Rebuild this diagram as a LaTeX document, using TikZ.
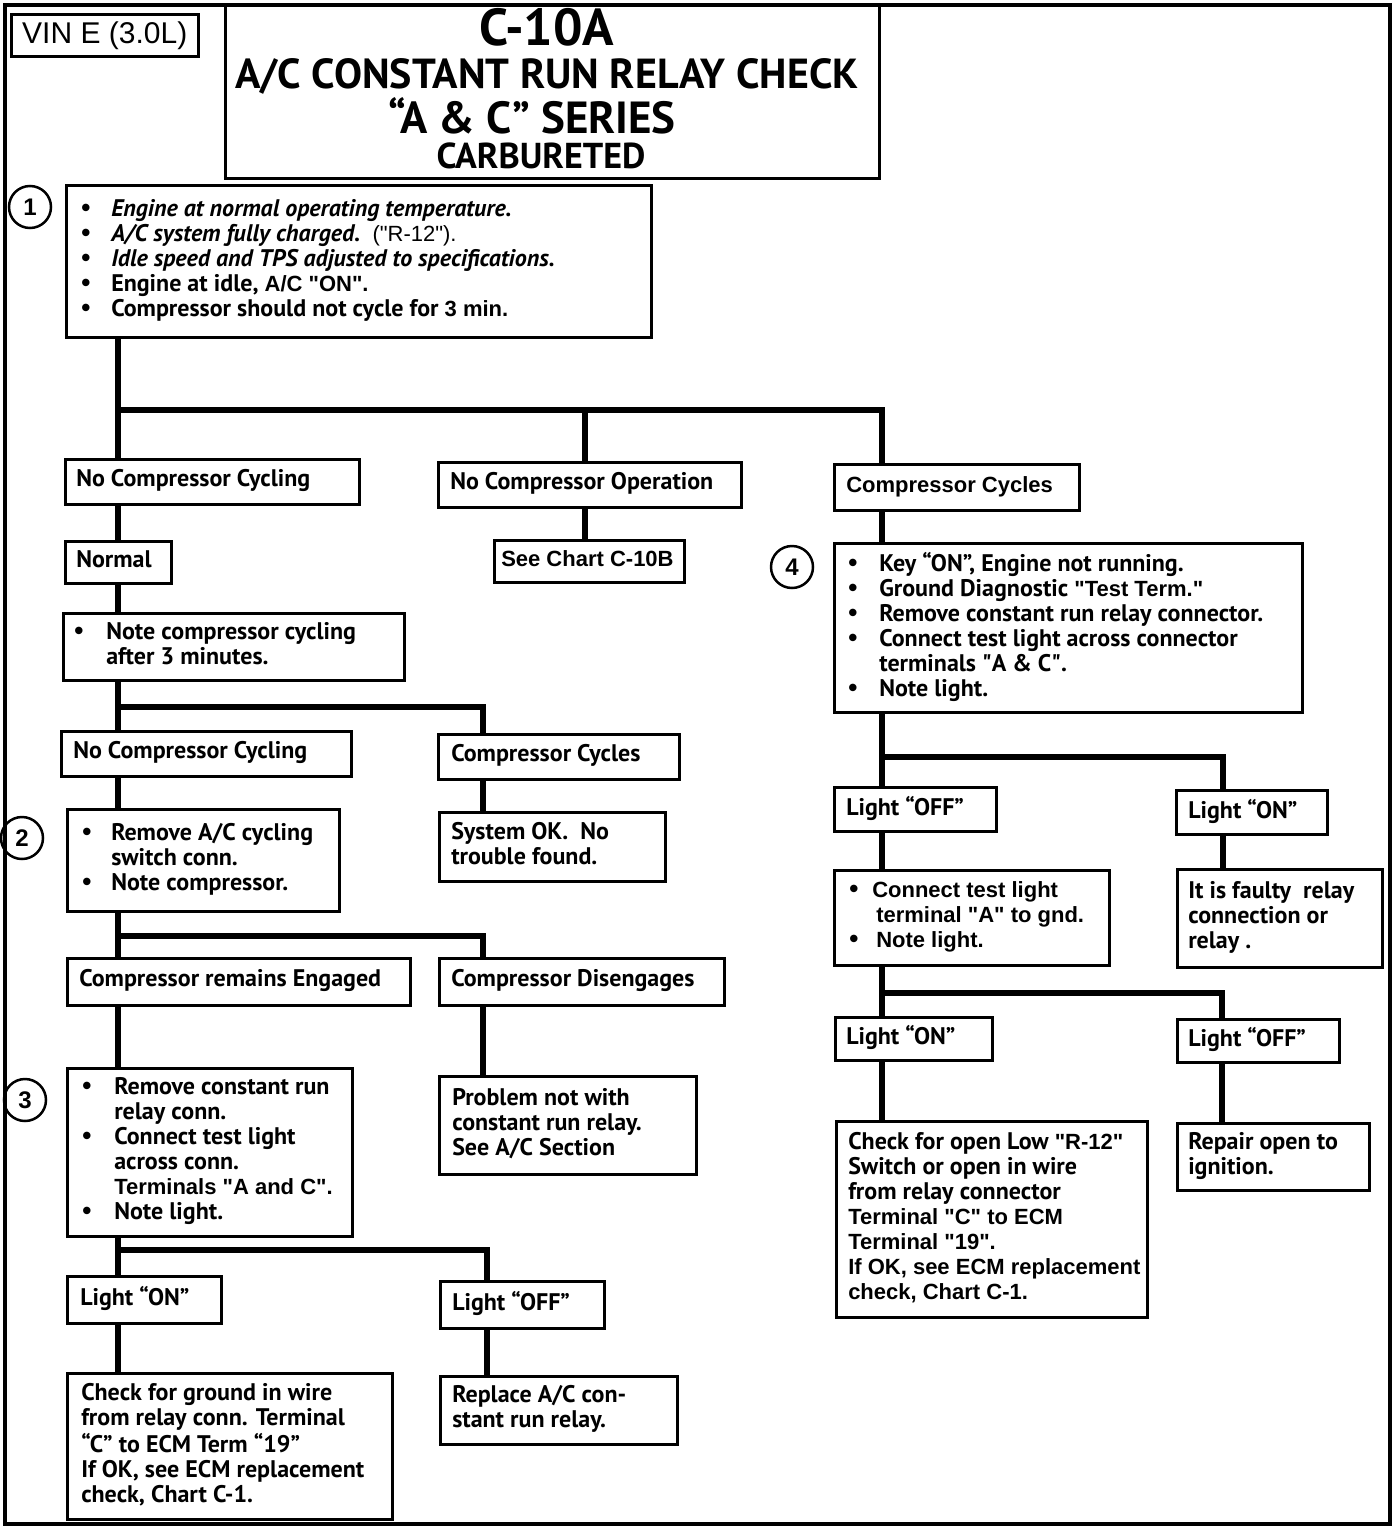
\documentclass[tikz,border=0pt]{standalone}
\usepackage{fontspec}
\usepackage{graphicx}
\setmainfont{PT Sans}
\newfontfamily\arial{Liberation Sans}
\newfontfamily\ptq{PT Sans}
\usetikzlibrary{calc}
\newcommand\bodyfont{\fontsize{24}{25}\selectfont\bfseries}
\newcommand\ar{\arial\fontsize{22}{25}\selectfont}
\newcommand\sq{{\ptq"}}
\newcommand\bl[1]{\makebox[#1][l]{\smash{\arial\fontsize{26}{25}\selectfont\textbullet}}}
\newcommand\ind[1]{\hspace*{#1}}
\newcommand\fb[8][]{\node[box, #1, inner xsep=#7pt, minimum width=#5pt, minimum height=#6pt]
  (#2) at (#3,#4) {\makebox[\dimexpr #5pt-#7pt*2\relax][l]{\begin{tabular}{@{}l@{}}#8\end{tabular}}};}
\tikzset{
  box/.style={draw, line width=2.5pt, fill=white, anchor=north west, inner ysep=0pt,
    font=\bodyfont},
  conn/.style={line width=6pt, line join=miter},
  num/.style={circle, draw, line width=2.5pt, minimum size=42pt, inner sep=0pt,
    font=\arial\bfseries\fontsize{24}{24}\selectfont},
  ttl/.style={anchor=base, inner sep=0pt},
}
\begin{document}
\begin{tikzpicture}[x=1pt,y=-1pt]
\useasboundingbox (0,0) rectangle (1392,1526);
\fill[white] (0,0) rectangle (1392,1526);
\node[draw, line width=3.5pt, anchor=north west, minimum width=1385pt, minimum height=1519pt, inner sep=0pt] (frame) at (3,3) {};
% title
\node[draw, line width=3pt, anchor=north west, minimum width=654pt, minimum height=174pt, inner sep=0pt] (titlebox) at (224,3) {};
\node[ttl, font=\bfseries\fontsize{52}{52}\selectfont, text depth=0pt] (tA) at (547,45) {C-10A};
\node[ttl, font=\bfseries\fontsize{42}{42}\selectfont, text depth=0pt] (tB) at (547,88) {A/C CONSTANT RUN RELAY CHECK};
\node[ttl, font=\bfseries\fontsize{45}{45}\selectfont, text depth=0pt] (tC) at (532,133) {“A \& C” SERIES};
\node[ttl, font=\bfseries\fontsize{36}{36}\selectfont, text height=25pt, text depth=0pt] (tD) at (541,168) {CARBURETED};
\node[draw, line width=2.5pt, anchor=north west, minimum width=187pt, minimum height=42pt, inner sep=0pt,
  font=\arial\fontsize{30}{30}\selectfont] (vin) at (10,13) {VIN E (3.0L)};
% junction coordinates
\coordinate (j1) at (118,410); \coordinate (j1m) at (585,410); \coordinate (j1r) at (882,410);
\coordinate (j2) at (118,707); \coordinate (j2r) at (483,707);
\coordinate (j3) at (118,936); \coordinate (j3r) at (483,936);
\coordinate (j4) at (118,1250); \coordinate (j4r) at (487,1250);
\coordinate (k1) at (882,757); \coordinate (k1r) at (1223,757);
\coordinate (k2) at (882,993); \coordinate (k2r) at (1222,993);
% boxes
\fb{box1}{65}{184}{585}{152}{15}{%
\bl{30pt}{\itshape Engine at normal operating temperature.}\\
\bl{30pt}{\itshape A/C system fully charged.}\ \ {\ar\mdseries ("R-12").}\\
\bl{30pt}{\itshape Idle speed and TPS adjusted to specifications.}\\
\bl{30pt}Engine at idle, {\ar A/C "ON".}\\
\bl{30pt}Compressor should not cycle for {\ar 3 min.}}
\fb{ncc1}{64}{458}{294}{45}{11}{No Compressor Cycling}
\fb{nco}{437}{461}{303}{45}{12}{No Compressor Operation}
\fb[font=\ar\bfseries]{cc1}{833}{463}{245}{46}{12}{Compressor Cycles}
\fb{normal}{64}{540}{106}{42}{11}{Normal}
\fb[font=\ar\bfseries]{see}{493}{539}{190}{42}{7}{See Chart C-10B}
\fb{note}{62}{612}{341}{67}{11}{%
\bl{32pt}Note compressor cycling\\
\ind{32pt}after 3 minutes.}
\fb{ncc2}{60}{730}{290}{45}{12}{No Compressor Cycling}
\fb{cc2}{437}{733}{241}{45}{13}{Compressor Cycles}
\fb{box2}{66}{808}{272}{102}{15}{%
\bl{29pt}Remove A/C cycling\\
\ind{29pt}switch conn.\\
\bl{29pt}Note compressor.}
\fb{sysok}{438}{811}{226}{69}{12}{System OK.\ \ No\\trouble found.}
\fb{cre}{66}{957}{343}{47}{12}{Compressor remains Engaged}
\fb{cd}{438}{957}{285}{47}{12}{Compressor Disengages}
\fb{box3}{66}{1067}{285}{168}{15}{%
\bl{32pt}Remove constant run\\
\ind{32pt}relay conn.\\
\bl{32pt}Connect test light\\
\ind{32pt}across conn.\\
\ind{32pt}{\ar Terminals "A and C".}\\
\bl{32pt}Note light.}
\fb{prob}{438}{1075}{257}{98}{13}{Problem not with\\constant run relay.\\See A/C Section}
\fb{lon3}{66}{1275}{154}{47}{13}{Light “ON”}
\fb{loff3}{439}{1280}{164}{47}{12}{Light “OFF”}
\fb{chkgnd}{66}{1372}{325}{146}{14}{Check for ground in wire\\from relay conn. Terminal\\“C” to ECM Term “19”\\If OK, see ECM replacement\\check, Chart C-1.}
\fb{repl}{439}{1375}{237}{68}{12}{Replace A/C con-\\stant run relay.}
\fb{box4}{833}{542}{468}{169}{14}{%
\bl{31pt}Key “ON”, Engine not running.\\
\bl{31pt}Ground Diagnostic {\ar "Test Term."}\\
\bl{31pt}Remove constant run relay connector.\\
\bl{31pt}Connect test light across connector\\
\ind{31pt}terminals \sq A \& C\sq.\\
\bl{31pt}Note light.}
\fb{loff4}{833}{786}{162}{44}{12}{Light “OFF”}
\fb{lon4}{1175}{789}{151}{44}{12}{Light “ON”}
\fb[font=\ar\bfseries]{ctest}{833}{869}{275}{95}{15}{%
\bl{23pt}Connect test light\\
\ind{27pt}terminal "A" to gnd.\\
\bl{27pt}Note light.}
\fb{faulty}{1176}{868}{205}{98}{11}{It is faulty\ \ relay\\connection or\\relay .}
\fb{lon4b}{834}{1016}{157}{43}{11}{Light “ON”}
\fb{loff4b}{1176}{1018}{162}{43}{11}{Light “OFF”}
\fb{chkopen}{835}{1120}{311}{196}{12}{Check for open Low {\ar"R-12"}\\Switch or open in wire\\from relay connector\\{\ar Terminal "C" to ECM}\\{\ar Terminal "19".}\\{\ar If OK, see ECM replacement}\\{\ar check, Chart C-1.}}
\fb{repair}{1176}{1122}{192}{67}{11}{Repair open to\\ignition.}
% circled numbers
\node[num] (n1) at (30,207) {1};
\node[num] (n2) at (22,838) {2};
\node[num] (n3) at (25,1100) {3};
\node[num] (n4) at (792,567) {4};
% connectors
\draw[conn] (box1.south -| j1) -- (j1) -- (j1r) -- (cc1.north -| j1r);
\draw[conn] (j1) -- (ncc1.north -| j1);
\draw[conn] (j1m) -- (nco.north -| j1m);
\draw[conn] (nco.south -| j1m) -- (see.north -| j1m);
\draw[conn] (ncc1.south -| j1) -- (normal.north -| j1);
\draw[conn] (normal.south -| j1) -- (note.north -| j1);
\draw[conn] (note.south -| j2) -- (j2) -- (j2r) -- (cc2.north -| j2r);
\draw[conn] (j2) -- (ncc2.north -| j2);
\draw[conn] (ncc2.south -| j2) -- (box2.north -| j2);
\draw[conn] (cc2.south -| j2r) -- (sysok.north -| j2r);
\draw[conn] (box2.south -| j3) -- (j3) -- (j3r) -- (cd.north -| j3r);
\draw[conn] (j3) -- (cre.north -| j3);
\draw[conn] (cre.south -| j3) -- (box3.north -| j3);
\draw[conn] (cd.south -| j3r) -- (prob.north -| j3r);
\draw[conn] (box3.south -| j4) -- (j4) -- (j4r) -- (loff3.north -| j4r);
\draw[conn] (j4) -- (lon3.north -| j4);
\draw[conn] (lon3.south -| j4) -- (chkgnd.north -| j4);
\draw[conn] (loff3.south -| j4r) -- (repl.north -| j4r);
\draw[conn] (cc1.south -| j1r) -- (box4.north -| j1r);
\draw[conn] (box4.south -| k1) -- (k1) -- (k1r) -- (lon4.north -| k1r);
\draw[conn] (k1) -- (loff4.north -| k1);
\draw[conn] (loff4.south -| k1) -- (ctest.north -| k1);
\draw[conn] (lon4.south -| k1r) -- (faulty.north -| k1r);
\draw[conn] (ctest.south -| k2) -- (k2) -- (k2r) -- (loff4b.north -| k2r);
\draw[conn] (k2) -- (lon4b.north -| k2);
\draw[conn] (lon4b.south -| k2) -- (chkopen.north -| k2);
\draw[conn] (loff4b.south -| k2r) -- (repair.north -| k2r);
\end{tikzpicture}
\end{document}
